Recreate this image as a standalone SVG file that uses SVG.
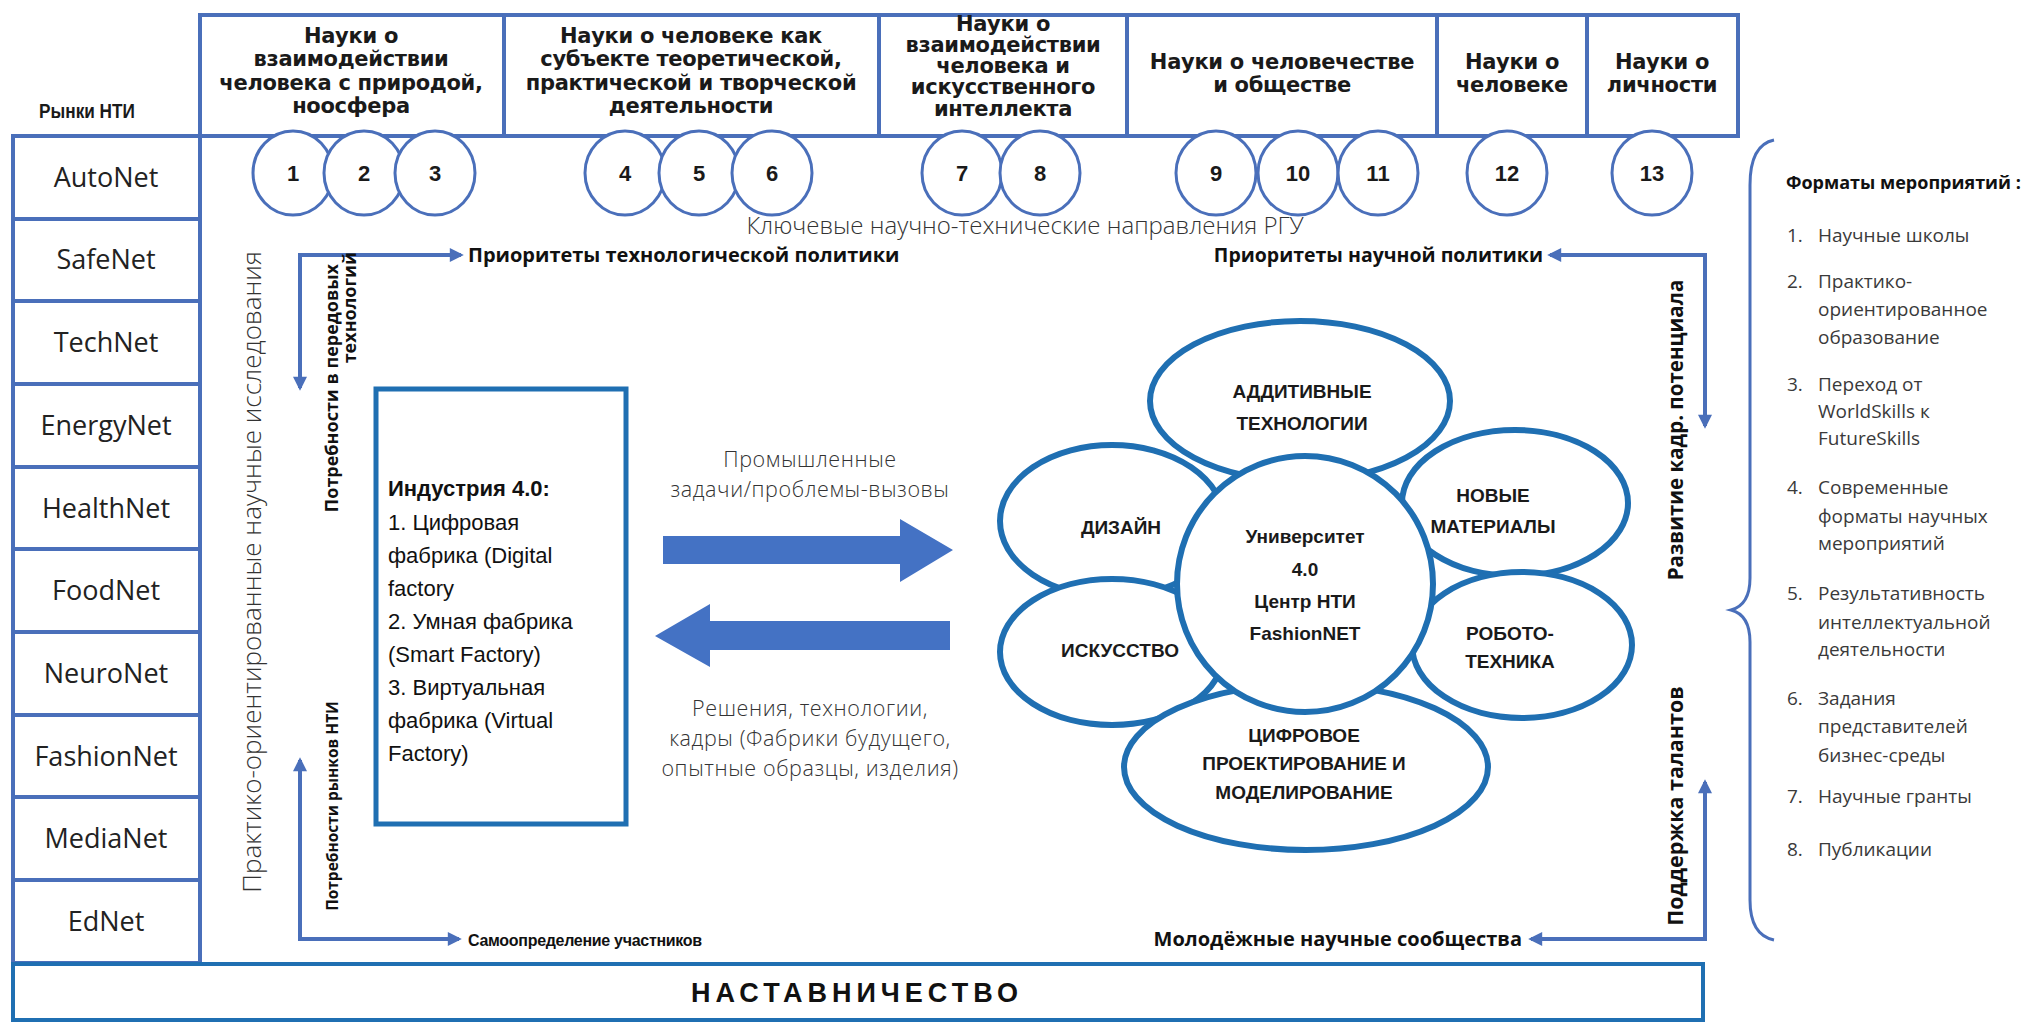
<svg xmlns="http://www.w3.org/2000/svg" width="2026" height="1024" viewBox="0 0 2026 1024">
<defs>
<style>
.box{fill:none;stroke:#4a6fba;stroke-width:4}
.hdr{font-family:"DejaVu Sans","Liberation Sans",sans-serif;font-weight:bold;font-size:21px;letter-spacing:-0.3px;fill:#1a1a1a;text-anchor:middle}
.num{font-family:"Liberation Sans",Arial,sans-serif;font-weight:bold;font-size:22px;fill:#1a1a1a;text-anchor:middle}
.nc{fill:#fff;stroke:#4a6fba;stroke-width:3}
.mk{font-family:"Open Sans","DejaVu Sans",sans-serif;font-size:27px;fill:#222;text-anchor:middle}
.lt{font-family:"Open Sans","DejaVu Sans",sans-serif;font-weight:300;fill:#333}
.lbl{font-family:"Open Sans","DejaVu Sans",sans-serif;font-weight:bold;fill:#111}
.con{fill:none;stroke:#4a6fba;stroke-width:4}
.pet{fill:#fff;stroke:#1f6fb2;stroke-width:6}
.ft{font-family:"Liberation Sans",Arial,sans-serif;font-weight:bold;font-size:19px;fill:#1a1a1a;text-anchor:middle}
.ind{font-family:"Liberation Sans",Arial,sans-serif;font-size:22px;fill:#111}
.lst{font-family:"Open Sans","DejaVu Sans",sans-serif;font-size:19px;fill:#3a3a3a}
.mid{font-size:21.5px;letter-spacing:0.6px;text-anchor:middle}
</style>
<marker id="ah" viewBox="0 0 10 10" refX="8" refY="5" markerWidth="16" markerHeight="14" markerUnits="userSpaceOnUse" orient="auto-start-reverse">
<path d="M0,0 L10,5 L0,10 z" fill="#4a6fba"/>
</marker>
</defs>
<rect width="2026" height="1024" fill="#fff"/>

<!-- header -->
<g id="header">
<rect class="box" x="200" y="15" width="1538" height="121"/>
<line class="box" x1="504" y1="15" x2="504" y2="136"/>
<line class="box" x1="879" y1="15" x2="879" y2="136"/>
<line class="box" x1="1127" y1="15" x2="1127" y2="136"/>
<line class="box" x1="1437" y1="15" x2="1437" y2="136"/>
<line class="box" x1="1587" y1="15" x2="1587" y2="136"/>
<text class="hdr" x="351"><tspan x="351" y="43">Науки о</tspan><tspan x="351" y="66">взаимодействии</tspan><tspan x="351" y="90">человека с природой,</tspan><tspan x="351" y="113">ноосфера</tspan></text>
<text class="hdr" x="691"><tspan x="691" y="43">Науки о человеке как</tspan><tspan x="691" y="66">субъекте теоретической,</tspan><tspan x="691" y="90">практической и творческой</tspan><tspan x="691" y="113">деятельности</tspan></text>
<text class="hdr" x="1003"><tspan x="1003" y="31">Науки о</tspan><tspan x="1003" y="52">взаимодействии</tspan><tspan x="1003" y="73">человека и</tspan><tspan x="1003" y="94">искусственного</tspan><tspan x="1003" y="116">интеллекта</tspan></text>
<text class="hdr" x="1282"><tspan x="1282" y="69">Науки о человечестве</tspan><tspan x="1282" y="92">и обществе</tspan></text>
<text class="hdr" x="1512"><tspan x="1512" y="69">Науки о</tspan><tspan x="1512" y="92">человеке</tspan></text>
<text class="hdr" x="1662"><tspan x="1662" y="69">Науки о</tspan><tspan x="1662" y="92">личности</tspan></text>
<text transform="translate(87 118) scale(0.82 1)" font-family="Liberation Sans,Arial,sans-serif" font-weight="bold" font-size="21" text-anchor="middle" fill="#1a1a1a">Рынки НТИ</text>
</g>

<!-- numbered circles -->
<g id="circles">
<ellipse class="nc" cx="293" cy="173" rx="40" ry="42"/><text class="num" x="293" y="181">1</text>
<ellipse class="nc" cx="364" cy="173" rx="40" ry="42"/><text class="num" x="364" y="181">2</text>
<ellipse class="nc" cx="435" cy="173" rx="40" ry="42"/><text class="num" x="435" y="181">3</text>
<ellipse class="nc" cx="625" cy="173" rx="40" ry="42"/><text class="num" x="625" y="181">4</text>
<ellipse class="nc" cx="699" cy="173" rx="40" ry="42"/><text class="num" x="699" y="181">5</text>
<ellipse class="nc" cx="772" cy="173" rx="40" ry="42"/><text class="num" x="772" y="181">6</text>
<ellipse class="nc" cx="962" cy="173" rx="40" ry="42"/><text class="num" x="962" y="181">7</text>
<ellipse class="nc" cx="1040" cy="173" rx="40" ry="42"/><text class="num" x="1040" y="181">8</text>
<ellipse class="nc" cx="1216" cy="173" rx="40" ry="42"/><text class="num" x="1216" y="181">9</text>
<ellipse class="nc" cx="1298" cy="173" rx="40" ry="42"/><text class="num" x="1298" y="181">10</text>
<ellipse class="nc" cx="1378" cy="173" rx="40" ry="42"/><text class="num" x="1378" y="181">11</text>
<ellipse class="nc" cx="1507" cy="173" rx="40" ry="42"/><text class="num" x="1507" y="181">12</text>
<ellipse class="nc" cx="1652" cy="173" rx="40" ry="42"/><text class="num" x="1652" y="181">13</text>
</g>

<!-- markets column -->
<g id="markets">
<rect class="box" x="13" y="136" width="187" height="827"/>
<line class="box" x1="13" y1="219" x2="200" y2="219"/>
<line class="box" x1="13" y1="301" x2="200" y2="301"/>
<line class="box" x1="13" y1="384" x2="200" y2="384"/>
<line class="box" x1="13" y1="467" x2="200" y2="467"/>
<line class="box" x1="13" y1="549" x2="200" y2="549"/>
<line class="box" x1="13" y1="632" x2="200" y2="632"/>
<line class="box" x1="13" y1="715" x2="200" y2="715"/>
<line class="box" x1="13" y1="797" x2="200" y2="797"/>
<line class="box" x1="13" y1="880" x2="200" y2="880"/>
<text class="mk" x="106" y="187">AutoNet</text>
<text class="mk" x="106" y="269">SafeNet</text>
<text class="mk" x="106" y="352">TechNet</text>
<text class="mk" x="106" y="435">EnergyNet</text>
<text class="mk" x="106" y="518">HealthNet</text>
<text class="mk" x="106" y="600">FoodNet</text>
<text class="mk" x="106" y="683">NeuroNet</text>
<text class="mk" x="106" y="766">FashionNet</text>
<text class="mk" x="106" y="848">MediaNet</text>
<text class="mk" x="106" y="931">EdNet</text>
</g>

<!-- bottom bar -->
<g id="mentoring">
<rect x="13" y="964" width="1690" height="56" fill="none" stroke="#1f6fb2" stroke-width="4"/>
<text x="857" y="1002" font-family="Liberation Sans,Arial,sans-serif" font-weight="bold" font-size="27" letter-spacing="5" text-anchor="middle" fill="#111">НАСТАВНИЧЕСТВО</text>
</g>

<!-- free labels -->
<g id="labels">
<text class="lt" x="1025" y="234" font-size="24" text-anchor="middle">Ключевые научно-технические направления РГУ</text>
<text class="lt" font-size="26" text-anchor="middle" transform="translate(261 572) rotate(-90)">Практико-ориентированные научные исследования</text>
</g>

<!-- connectors -->
<g id="connectors">
<polyline class="con" points="461,255 300,255 300,388" marker-start="url(#ah)" marker-end="url(#ah)"/>
<polyline class="con" points="300,760 300,939 459,939" marker-start="url(#ah)" marker-end="url(#ah)"/>
<polyline class="con" points="1550,255 1705,255 1705,426" marker-start="url(#ah)" marker-end="url(#ah)"/>
<polyline class="con" points="1705,782 1705,939 1531,939" marker-start="url(#ah)" marker-end="url(#ah)"/>
<polygon points="663,536 900,536 900,519 953,550 900,582 900,564 663,564" fill="#4472c4"/>
<polygon points="950,621 710,621 710,604 655,636 710,667 710,650 950,650" fill="#4472c4"/>
</g>

<g id="connector-labels">
<text class="lbl" x="468" y="262" font-size="20">Приоритеты технологической политики</text>
<text class="lbl" x="1543" y="262" font-size="19.5" text-anchor="end">Приоритеты научной политики</text>
<text x="468" y="946" font-family="Liberation Sans,Arial,sans-serif" font-weight="bold" font-size="16" letter-spacing="-0.3" fill="#111">Самоопределение участников</text>
<text class="lbl" x="1522" y="946" font-size="20" text-anchor="end">Молодёжные научные сообщества</text>
<text class="lbl" font-size="18" text-anchor="end" transform="translate(338 264) rotate(-90)">Потребности в передовых</text>
<text class="lbl" font-size="18" text-anchor="end" transform="translate(356 252) rotate(-90)">технологий</text>
<text class="lbl" font-size="15.5" text-anchor="middle" transform="translate(338 806) rotate(-90)">Потребности рынков НТИ</text>
<text class="lbl" font-size="20.5" text-anchor="middle" transform="translate(1683 430) rotate(-90)">Развитие кадр. потенциала</text>
<text class="lbl" font-size="21.5" text-anchor="middle" transform="translate(1683 806) rotate(-90)">Поддержка талантов</text>
<text class="lt mid" x="810" y="467">Промышленные</text>
<text class="lt mid" x="810" y="497">задачи/проблемы-вызовы</text>
<text class="lt mid" x="810" y="716">Решения, технологии,</text>
<text class="lt mid" x="810" y="746">кадры (Фабрики будущего,</text>
<text class="lt mid" x="810" y="776">опытные образцы, изделия)</text>
</g>

<!-- Industry 4.0 -->
<g id="industry">
<rect x="376" y="389" width="250" height="435" fill="#fff" stroke="#1f6fb2" stroke-width="5"/>
<text class="ind" x="388" y="496" font-weight="bold">Индустрия 4.0:</text>
<text class="ind" x="388" y="530">1. Цифровая</text>
<text class="ind" x="388" y="563">фабрика (Digital</text>
<text class="ind" x="388" y="596">factory</text>
<text class="ind" x="388" y="629">2. Умная фабрика</text>
<text class="ind" x="388" y="662">(Smart Factory)</text>
<text class="ind" x="388" y="695">3. Виртуальная</text>
<text class="ind" x="388" y="728">фабрика (Virtual</text>
<text class="ind" x="388" y="761">Factory)</text>
</g>

<!-- flower -->
<g id="flower">
<ellipse id="p-design" class="pet" cx="1112" cy="521" rx="112" ry="76"/>
<ellipse id="p-art" class="pet" cx="1112" cy="652" rx="112" ry="73"/>
<ellipse id="p-mat" class="pet" cx="1515" cy="503" rx="113" ry="73"/>
<ellipse id="p-robo" class="pet" cx="1522" cy="645" rx="110" ry="73"/>
<ellipse id="p-add" class="pet" cx="1300" cy="401" rx="150" ry="80"/>
<ellipse id="p-cad" class="pet" cx="1306" cy="767" rx="182" ry="83"/>
<circle id="core" class="pet" cx="1305" cy="584" r="128"/>
<text class="ft" x="1302" y="398">АДДИТИВНЫЕ</text>
<text class="ft" x="1302" y="430">ТЕХНОЛОГИИ</text>
<text class="ft" x="1121" y="534">ДИЗАЙН</text>
<text class="ft" x="1120" y="657">ИСКУССТВО</text>
<text class="ft" x="1493" y="502">НОВЫЕ</text>
<text class="ft" x="1493" y="533">МАТЕРИАЛЫ</text>
<text class="ft" x="1510" y="640">РОБОТО-</text>
<text class="ft" x="1510" y="668">ТЕХНИКА</text>
<text class="ft" x="1304" y="742">ЦИФРОВОЕ</text>
<text class="ft" x="1304" y="770">ПРОЕКТИРОВАНИЕ И</text>
<text class="ft" x="1304" y="799">МОДЕЛИРОВАНИЕ</text>
<text class="ft" font-size="23" x="1305" y="543">Университет</text>
<text class="ft" font-size="23" x="1305" y="576">4.0</text>
<text class="ft" font-size="23" x="1305" y="608">Центр НТИ</text>
<text class="ft" font-size="23" x="1305" y="640">FashionNET</text>
</g>

<!-- formats list -->
<g id="formats">
<path d="M1774,140 Q1750,145 1750,185 L1750,578 Q1750,605 1731,610 Q1750,615 1750,642 L1750,900 Q1750,935 1774,940" fill="none" stroke="#4a6fba" stroke-width="3"/>
<text class="lbl" x="1786" y="189" font-size="18">Форматы мероприятий :</text>
<g class="lst">
<text x="1787" y="242">1.</text><text x="1818" y="242">Научные  школы</text>
<text x="1787" y="288">2.</text><text x="1818" y="288">Практико-</text><text x="1818" y="316">ориентированное</text><text x="1818" y="344">образование</text>
<text x="1787" y="391">3.</text><text x="1818" y="391">Переход от</text><text x="1818" y="418">WorldSkills к</text><text x="1818" y="445">FutureSkills</text>
<text x="1787" y="494">4.</text><text x="1818" y="494">Современные</text><text x="1818" y="523">форматы научных</text><text x="1818" y="550">мероприятий</text>
<text x="1787" y="600">5.</text><text x="1818" y="600">Результативность</text><text x="1818" y="629">интеллектуальной</text><text x="1818" y="656">деятельности</text>
<text x="1787" y="705">6.</text><text x="1818" y="705">Задания</text><text x="1818" y="733">представителей</text><text x="1818" y="762">бизнес-среды</text>
<text x="1787" y="803">7.</text><text x="1818" y="803">Научные  гранты</text>
<text x="1787" y="856">8.</text><text x="1818" y="856">Публикации</text>
</g>
</g>
</svg>
